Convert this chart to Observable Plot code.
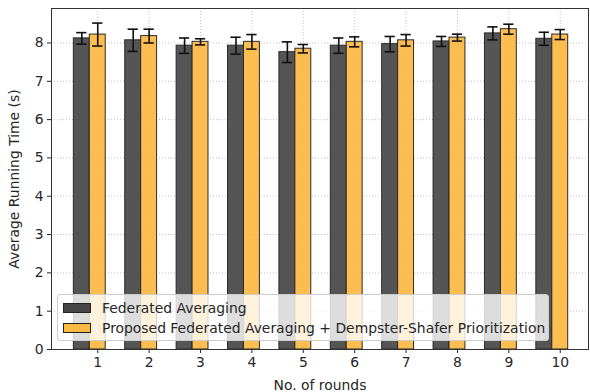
<!DOCTYPE html>
<html>
<head>
<meta charset="utf-8">
<script src="https://cdn.jsdelivr.net/npm/d3@7"></script>
<script src="https://cdn.jsdelivr.net/npm/@observablehq/plot@0.6"></script>
<style>
  body { margin: 0; background: #fff; font-family: "DejaVu Sans", sans-serif; }
  #wrap { position: relative; width: 590px; height: 392px; }
  .legend { position: absolute; left: 57px; top: 294px; width: 492px; height: 47px;
    background: rgba(255,255,255,0.8); border: 1px solid #cccccc; border-radius: 3px;
    font-size: 13.9px; color: #262626; box-sizing: border-box; }
  .row { position: absolute; left: 5px; display: flex; align-items: center; height: 16px; }
  .sw { width: 28px; height: 10px; border: 1px solid #222; margin-right: 11px; box-sizing: border-box; }
</style>
</head>
<body>
<div id="wrap"></div>
<script>
const rounds = [1, 2, 3, 4, 5, 6, 7, 8, 9, 10];
const seriesNames = ["Federated Averaging", "Proposed Federated Averaging + Dempster-Shafer Prioritization"];
const fedAvg    = [8.12, 8.07, 7.93, 7.93, 7.76, 7.93, 7.97, 8.04, 8.25, 8.11];
const fedAvgErr = [0.15, 0.29, 0.20, 0.22, 0.27, 0.20, 0.20, 0.13, 0.17, 0.17];
const proposed    = [8.22, 8.18, 8.03, 8.03, 7.85, 8.03, 8.07, 8.14, 8.36, 8.22];
const proposedErr = [0.30, 0.18, 0.08, 0.19, 0.11, 0.13, 0.15, 0.09, 0.13, 0.13];
const yTicks = [0, 1, 2, 3, 4, 5, 6, 7, 8];
const colors = ["#474747", "#fdb942"];
const barWidth = 0.31;
const offsets = [-0.31, 0];

const data = [];
rounds.forEach((r, i) => {
  data.push({round: r, series: seriesNames[0], value: fedAvg[i], err: fedAvgErr[i], s: 0});
  data.push({round: r, series: seriesNames[1], value: proposed[i], err: proposedErr[i], s: 1});
});
const cx = d => d.round + offsets[d.s];

const chart = Plot.plot({
  width: 590,
  height: 392,
  marginLeft: 51,
  marginRight: 2,
  marginTop: 8,
  marginBottom: 43,
  style: {fontFamily: "DejaVu Sans, sans-serif", fontSize: "13.9px", color: "#262626", background: "#fff"},
  x: {type: "linear", domain: [0.1, 10.55], ticks: rounds, tickFormat: d => String(d), label: null},
  y: {domain: [0, 8.9], ticks: yTicks, label: null},
  color: {domain: seriesNames, range: colors},
  marks: [
    Plot.gridY(yTicks, {stroke: "#b0b0b0", strokeOpacity: 1, strokeDasharray: "1,2", strokeWidth: 0.8}),
    Plot.gridX(rounds, {stroke: "#b0b0b0", strokeOpacity: 1, strokeDasharray: "1,2", strokeWidth: 0.8}),
    Plot.rectY(data, {
      x1: d => cx(d) - barWidth / 2, x2: d => cx(d) + barWidth / 2, y1: 0, y2: "value",
      fill: "series", fillOpacity: 0.92, stroke: "#2a2a2a", strokeWidth: 1, insetLeft: 0, insetRight: 0
    }),
    Plot.ruleX(data, {x: cx, y1: d => d.value - d.err, y2: d => d.value + d.err, stroke: "#111", strokeWidth: 1.6}),
    Plot.ruleY(data, {y: d => d.value + d.err, x1: d => cx(d) - 0.1, x2: d => cx(d) + 0.1, stroke: "#111", strokeWidth: 1.6}),
    Plot.ruleY(data, {y: d => d.value - d.err, x1: d => cx(d) - 0.1, x2: d => cx(d) + 0.1, stroke: "#111", strokeWidth: 1.6}),
    Plot.axisX({ticks: rounds, tickSize: 4, tickPadding: 4, fontSize: 13.9, label: "No. of rounds", labelAnchor: "center", labelArrow: "none", labelOffset: 40}),
    Plot.axisY({ticks: yTicks, tickSize: 4, tickPadding: 4, fontSize: 13.9, label: "Average Running Time (s)", labelAnchor: "center", labelArrow: "none", labelOffset: 42}),
    Plot.frame({stroke: "#333", strokeWidth: 1})
  ]
});
const wrap = document.getElementById("wrap");
wrap.appendChild(chart);

const legend = document.createElement("div");
legend.className = "legend";
seriesNames.forEach((name, i) => {
  const row = document.createElement("div");
  row.className = "row";
  row.style.top = (i === 0 ? 5 : 25) + "px";
  const sw = document.createElement("div");
  sw.className = "sw";
  sw.style.background = colors[i];
  const t = document.createElement("span");
  t.textContent = name;
  row.appendChild(sw); row.appendChild(t);
  legend.appendChild(row);
});
wrap.appendChild(legend);
</script>
</body>
</html>
